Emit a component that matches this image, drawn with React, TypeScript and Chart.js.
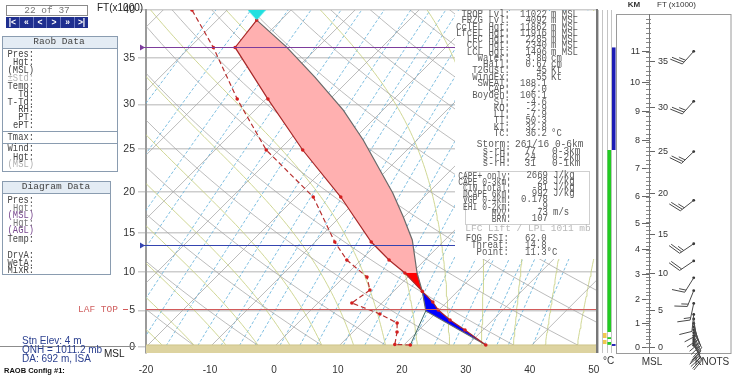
import React, { useEffect, useRef } from 'react';
import { Chart, registerables } from 'chart.js';

Chart.register(...registerables);

const W = 732;
const H = 377;
const MONO = "'Liberation Mono','DejaVu Sans Mono',monospace";
const SANS = "'Liberation Sans',Arial,sans-serif";

// ---------------- axis ticks ----------------
const ALT_TICKS_KFT = [0, 5, 10, 15, 20, 25, 30, 35, 40];
const TEMP_TICKS_C = [-20, -10, 0, 10, 20, 30, 40, 50];
const KM_TICKS = [0, 1, 2, 3, 4, 5, 6, 7, 8, 9, 10, 11];
const FT_TICKS_RIGHT = [0, 5, 10, 15, 20, 25, 30, 35];

// ---------------- sounding (altitude kft MSL, temperature °C) ----------------
const ENV_ALT_KFT = [0.28, 2.34, 3.69, 5.04, 6.1, 7.5, 9.9, 11.56, 13.84, 19.36, 24.88, 30.59, 36.1, 38.95];
const ENV_TEMP_C = [32.8, 27.2, 23.3, 19.9, 17.8, 14.5, 8.9, 4.4, -1.2, -13.0, -26.3, -39.7, -52.9, -53.8];
const DEW_ALT_KFT = [0.28, 0.35, 2.06, 3.29, 4.5, 5.97, 7.68, 9.38, 11.56, 13.84, 19.36, 24.88, 30.59, 36.1, 40];
const DEW_TEMP_C = [21.0, 18.5, 16.9, 15.5, 11.4, 5.3, 6.1, 3.6, -2.2, -6.9, -17.3, -32.0, -44.5, -56.3, -65.5];
const PARCEL_ALT_KFT = [0.28, 4.91, 7.5, 9.9, 14.09, 16.94, 19.84, 22.56, 26.02, 29.38, 32.97, 36.14, 38.95];
const PARCEL_TEMP_C = [32.8, 18.1, 14.5, 10.8, 4.9, -0.1, -5.5, -11.1, -18.4, -26.2, -35.8, -44.9, -53.8];
const LFC_KFT = 7.5;
const CAPE_SPLIT_KFT = 9.9;
const EL_KFT = 38.95;
const EL_TEMP_C = -53.8;
const GROUND_KFT = 0.28;

// levels: tropopause, freezing level, LAF top
const LEVEL_ALT_KFT = [36.16, 13.42, 5.17];

// ---------------- diagram reference lines ----------------
const ISOTHERMS_C = [-130, -120, -110, -100, -90, -80, -70, -60, -50, -40, -30, -20, -10, 0, 10, 20, 30, 40, 50];
const DRY_ADIABATS_K = [240, 250, 260, 270, 280, 290, 300, 310, 320, 330, 340, 350, 360, 370, 380, 390, 400, 410, 420, 430, 440, 450];
const MOIST_ADIABATS_C = [-18, -13, -8, -3, 2, 7, 12, 17, 22, 27, 32, 37, 42, 47];
const MIXING_RATIOS_GKG = [0.05, 0.1, 0.2, 0.3, 0.5, 0.7, 1, 1.5, 2, 2.5, 3, 4, 5, 6, 8, 10, 12, 14, 16, 20, 24, 28, 32, 36, 40, 50];

// ---------------- winds ----------------
const WIND_ALT_KFT = [36.1, 30.7, 25.0, 19.2, 13.8, 11.6, 9.4, 7.7, 6.0, 4.5, 3.9, 3.3, 2.8, 2.4, 2.0, 1.6, 1.3, 1.0, 0.7, 0.45, 0.25];
const WIND_DIR_DEG = [222, 222, 226, 232, 236, 236, 212, 202, 192, 186, 172, 166, 160, 156, 152, 155, 158, 160, 157, 153, 150];
const WIND_SPD_KT = [25, 25, 25, 25, 25, 20, 15, 15, 15, 10, 10, 10, 10, 10, 10, 10, 10, 10, 10, 10, 10];

// ---------------- side column layers ----------------
const COL_CATS = ['a', 'b', 'c', 'd'];
const COL_LAYER_CAT = [2, 3, 1, 1, 2, 2, 3];
const COL_LAYER_LO_KFT = [2.06, 24.88, 0.41, 1.24, 0.3, 1.1, 0.15];
const COL_LAYER_HI_KFT = [24.88, 36.1, 0.97, 1.93, 0.69, 1.35, 0.41];
const COL_LAYER_COLOR = ['#22cc22', '#1c1cb4', '#f0c850', '#f0c850', '#22cc22', '#22cc22', '#1c1cb4'];

// ---------------- geometry helpers ----------------
const K_SKEW = 31.23;
const Y_MIN = -0.03;
const Y_MAX = 1.6869;
const X_MIN = -20;
const X_MAX = 50.5;
const Y_LO = -0.08;
const Y_HI = 1.76;
const BARB_X = 0.566;

function yOf(kft: number) {
  const z = kft * 304.8;
  return z <= 11000 ? -5.25588 * Math.log(1 - 2.25577e-5 * z) : 1.49896 + (z - 11000) / 6341.6;
}
const pres = (Y: number) => 1013.25 * Math.exp(-Y);
const skewPt = (T: number, kft: number) => ({ x: T + K_SKEW * yOf(kft), y: yOf(kft) });

function isothermLine(T: number) {
  return [Y_LO, Y_HI].map((Y) => ({ x: T + K_SKEW * Y, y: Y }));
}
function dryLine(th: number) {
  const pts: any[] = [];
  for (let Y = Y_LO; Y <= Y_HI + 1e-9; Y += 0.04) {
    const T = th * Math.pow(pres(Y) / 1000, 0.2857) - 273.15;
    pts.push({ x: T + K_SKEW * Y, y: Y });
  }
  return pts;
}
function mixLine(w: number) {
  const pts: any[] = [];
  for (let Y = Y_LO; Y <= Y_HI + 1e-9; Y += 0.08) {
    const e = (w * pres(Y)) / (622 + w);
    const l = Math.log(e / 6.112);
    const Td = (243.5 * l) / (17.67 - l);
    pts.push({ x: Td + K_SKEW * Y, y: Y });
  }
  return pts;
}
function dTdY(Tk: number, p: number) {
  const Tc = Tk - 273.15;
  const es = 6.112 * Math.exp((17.67 * Tc) / (Tc + 243.5));
  const rs = (0.622 * es) / Math.max(p - es, 1);
  const num = 287 * Tk + 2.5e6 * rs;
  const den = 1005 + (2.5e6 * 2.5e6 * rs * 0.622) / (287 * Tk * Tk);
  return -num / den;
}
function moistLine(T0: number) {
  const Y0 = Math.log(1013.25 / 1000);
  const h = 0.02;
  const up: any[] = [];
  let T = T0 + 273.15;
  for (let Y = Y0; Y <= Y_HI + h; Y += h) {
    up.push({ x: T - 273.15 + K_SKEW * Y, y: Y });
    const k1 = dTdY(T, pres(Y));
    const k2 = dTdY(T + k1 * h, pres(Y + h));
    T += 0.5 * h * (k1 + k2);
  }
  const down: any[] = [];
  T = T0 + 273.15;
  for (let Y = Y0; Y >= Y_LO - h; Y -= h) {
    const k1 = dTdY(T, pres(Y));
    const k2 = dTdY(T - k1 * h, pres(Y - h));
    T -= 0.5 * h * (k1 + k2);
    down.push({ x: T - 273.15 + K_SKEW * (Y - h), y: Y - h });
  }
  return down.reverse().concat(up);
}

function bg(data: any[], color: string, dash: number[] = []) {
  return { data, borderColor: color, borderWidth: 1, borderDash: dash, pointRadius: 0, fill: false, order: 20 };
}

// ---------------- main skew-T chart ----------------
const levelPlugin = {
  id: 'levels',
  afterDatasetsDraw(chart: any) {
    const { ctx, chartArea: ca } = chart;
    const ys = chart.scales.y;
    const colors = ['#7d3d9c', '#3444b0', '#d25a5a'];
    ctx.save();
    LEVEL_ALT_KFT.forEach((alt, i) => {
      const py = Math.round(ys.getPixelForValue(yOf(alt))) + 0.5;
      ctx.strokeStyle = colors[i];
      ctx.lineWidth = 1;
      ctx.beginPath();
      if (i < 2) {
        ctx.moveTo(ca.left - 5, py);
      } else {
        ctx.moveTo(123, py);
        ctx.lineTo(128, py);
        ctx.moveTo(ca.left, py);
      }
      ctx.lineTo(ca.right, py);
      ctx.stroke();
      if (i < 2) {
        ctx.fillStyle = colors[i];
        ctx.beginPath();
        ctx.moveTo(ca.left - 6, py - 3);
        ctx.lineTo(ca.left - 1, py);
        ctx.lineTo(ca.left - 6, py + 3);
        ctx.closePath();
        ctx.fill();
      }
    });
    ctx.strokeStyle = '#777';
    ctx.lineWidth = 2;
    ctx.beginPath();
    ctx.moveTo(ca.right, ca.top - 1);
    ctx.lineTo(ca.right, ca.bottom);
    ctx.stroke();
    ctx.restore();
  },
};

function MainChart() {
  const ref = useRef<HTMLCanvasElement>(null);
  useEffect(() => {
    const tri = document.createElement('canvas');
    tri.width = 18;
    tri.height = 20;
    const tc = tri.getContext('2d')!;
    tc.fillStyle = '#20e0e0';
    tc.beginPath();
    tc.moveTo(0, 0);
    tc.lineTo(18, 0);
    tc.lineTo(9, 10);
    tc.closePath();
    tc.fill();

    const env = ENV_ALT_KFT.map((a, i) => ({ alt: a, T: ENV_TEMP_C[i] }));
    const par = PARCEL_ALT_KFT.map((a, i) => ({ alt: a, T: PARCEL_TEMP_C[i] }));
    const region = (lo: number, hi: number) => {
      const e = env.filter((p) => p.alt >= lo - 1e-6 && p.alt <= hi + 1e-6);
      const pc = par.filter((p) => p.alt >= lo - 1e-6 && p.alt <= hi + 1e-6).reverse();
      return [...e, ...pc].map((p) => skewPt(p.T, p.alt));
    };

    const datasets: any[] = [];
    ISOTHERMS_C.forEach((T) => datasets.push(bg(isothermLine(T), 'rgba(165,165,165,0.75)')));
    DRY_ADIABATS_K.forEach((t) => datasets.push(bg(dryLine(t), 'rgba(165,165,165,0.75)')));
    MOIST_ADIABATS_C.forEach((t) => datasets.push(bg(moistLine(t), 'rgba(200,208,130,0.85)')));
    MIXING_RATIOS_GKG.forEach((w) => datasets.push(bg(mixLine(w), 'rgba(105,180,220,0.85)', [3, 2])));

    datasets.push({
      data: [{ x: X_MIN, y: yOf(GROUND_KFT) }, { x: X_MAX, y: yOf(GROUND_KFT) }],
      borderColor: '#cfc48a', borderWidth: 1, backgroundColor: '#ddd3a0', fill: 'start', pointRadius: 0, order: 15,
    });
    datasets.push({ data: region(CAPE_SPLIT_KFT, EL_KFT), backgroundColor: '#ffb0b0', borderWidth: 0, fill: 'shape', pointRadius: 0, order: 10 });
    datasets.push({ data: region(LFC_KFT, CAPE_SPLIT_KFT), backgroundColor: '#ff0000', borderWidth: 0, fill: 'shape', pointRadius: 0, order: 10 });
    datasets.push({ data: region(0, LFC_KFT), backgroundColor: '#0000ff', borderWidth: 0, fill: 'shape', pointRadius: 0, order: 10 });
    datasets.push({
      data: PARCEL_ALT_KFT.map((a, i) => skewPt(PARCEL_TEMP_C[i], a)),
      borderColor: '#6a6a6a', borderWidth: 1.2, pointRadius: 0, fill: false, order: 5,
    });
    datasets.push({
      data: [skewPt(DEW_TEMP_C[0], DEW_ALT_KFT[0]), skewPt(PARCEL_TEMP_C[1], PARCEL_ALT_KFT[1])],
      borderColor: '#3c6a6a', borderWidth: 1, pointRadius: 0, fill: false, order: 5,
    });
    datasets.push({
      data: DEW_ALT_KFT.map((a, i) => skewPt(DEW_TEMP_C[i], a)),
      borderColor: '#b83030', borderWidth: 1.2, borderDash: [5, 3], pointRadius: 1.8,
      pointBackgroundColor: '#d41e1e', pointBorderWidth: 0, fill: false, order: 1,
    });
    datasets.push({
      data: ENV_ALT_KFT.map((a, i) => skewPt(ENV_TEMP_C[i], a)),
      borderColor: '#a82828', borderWidth: 1.2, pointRadius: 1.8,
      pointBackgroundColor: '#d41e1e', pointBorderWidth: 0, fill: false, order: 1,
    });
    datasets.push({ data: [skewPt(EL_TEMP_C, EL_KFT)], showLine: false, pointStyle: tri, pointRadius: 9, order: 0 });

    const chart = new Chart(ref.current!, {
      type: 'line',
      data: { datasets },
      options: {
        responsive: false,
        animation: false,
        events: [],
        layout: { padding: { left: 0, right: W - 597, top: 10, bottom: 0 } },
        plugins: { legend: { display: false }, tooltip: { enabled: false } },
        elements: { line: { tension: 0 } },
        scales: {
          x: {
            type: 'linear', min: X_MIN, max: X_MAX,
            afterBuildTicks: (s: any) => { s.ticks = TEMP_TICKS_C.map((v) => ({ value: v })); },
            afterFit: (s: any) => { s.height = H - 353; },
            grid: { display: false },
            border: { display: false },
            ticks: { autoSkip: false, maxRotation: 0, padding: 3, color: '#333', font: { family: SANS, size: 10 }, callback: (v: any) => String(v) },
          },
          y: {
            type: 'linear', min: Y_MIN, max: Y_MAX,
            afterBuildTicks: (s: any) => { s.ticks = ALT_TICKS_KFT.map((a) => ({ value: yOf(a) })); },
            afterFit: (s: any) => { s.width = 146; },
            grid: { color: '#cdcdcd', lineWidth: 1.5, tickLength: 8 },
            border: { display: true, color: '#9a9a9a', width: 2 },
            ticks: { autoSkip: false, padding: 3, color: '#333', font: { family: SANS, size: 10.5 }, callback: (_v: any, i: number) => String(ALT_TICKS_KFT[i]) },
          },
        },
      } as any,
      plugins: [levelPlugin],
    });
    return () => chart.destroy();
  }, []);
  return <canvas ref={ref} width={W} height={H} style={{ position: 'absolute', left: 0, top: 0, width: W, height: H }} />;
}

// ---------------- column of layers ----------------
function ColumnChart() {
  const ref = useRef<HTMLCanvasElement>(null);
  useEffect(() => {
    const datasets = COL_LAYER_CAT.map((cat, i) => ({
      data: COL_CATS.map((_c, j) => (j === cat ? [yOf(COL_LAYER_LO_KFT[i]), yOf(COL_LAYER_HI_KFT[i])] : null)),
      backgroundColor: COL_LAYER_COLOR[i],
      borderWidth: 0,
      grouped: false,
      barPercentage: 1,
      categoryPercentage: 0.8,
    }));
    const chart = new Chart(ref.current!, {
      type: 'bar',
      data: { labels: COL_CATS, datasets },
      options: {
        responsive: false,
        animation: false,
        events: [],
        layout: { padding: { left: 1, right: 0, top: 10, bottom: 24 } },
        plugins: { legend: { display: false }, tooltip: { enabled: false } },
        scales: {
          x: {
            grid: { offset: true, color: '#c4c4c4', drawTicks: false },
            border: { display: false },
            ticks: { display: false },
            afterFit: (s: any) => { s.height = 0; },
          },
          y: { display: false, min: Y_MIN, max: Y_MAX },
        },
      } as any,
    });
    return () => chart.destroy();
  }, []);
  return <canvas ref={ref} width={19} height={H} style={{ position: 'absolute', left: 597, top: 0, width: 19, height: H }} />;
}

// ---------------- right altitude / wind panel ----------------
const rightFrame = {
  id: 'rframe',
  beforeDraw(chart: any) {
    const { ctx, chartArea: ca } = chart;
    ctx.save();
    ctx.strokeStyle = '#9a9a9a';
    ctx.lineWidth = 1;
    ctx.strokeRect(0.5, Math.round(ca.top) + 0.5, chart.width - 1.5, Math.round(ca.bottom - ca.top));
    ctx.restore();
  },
};
const barbPlugin = {
  id: 'barbs',
  afterDatasetsDraw(chart: any) {
    const { ctx } = chart;
    const xs = chart.scales.x;
    const ys = chart.scales.yKm;
    const ca = Math.cos((70 * Math.PI) / 180);
    const sa = Math.sin((70 * Math.PI) / 180);
    ctx.save();
    ctx.strokeStyle = '#4a4a4a';
    ctx.lineWidth = 1;
    WIND_ALT_KFT.forEach((alt, i) => {
      const px = xs.getPixelForValue(BARB_X);
      const py = ys.getPixelForValue(yOf(alt));
      const d = (WIND_DIR_DEG[i] * Math.PI) / 180;
      const ux = Math.sin(d);
      const uy = -Math.cos(d);
      const L = 17;
      const ex = px + ux * L;
      const ey = py + uy * L;
      const fx = ux * ca - uy * sa;
      const fy = ux * sa + uy * ca;
      ctx.beginPath();
      ctx.moveTo(px, py);
      ctx.lineTo(ex, ey);
      let spd = WIND_SPD_KT[i];
      let k = 0;
      while (spd >= 10) {
        const bx = ex - ux * k * 2.5;
        const by = ey - uy * k * 2.5;
        ctx.moveTo(bx, by);
        ctx.lineTo(bx + fx * 13, by + fy * 13);
        spd -= 10;
        k++;
      }
      if (spd >= 5) {
        if (k === 0) k = 1;
        const bx = ex - ux * k * 2.5;
        const by = ey - uy * k * 2.5;
        ctx.moveTo(bx, by);
        ctx.lineTo(bx + fx * 7, by + fy * 7);
      }
      ctx.stroke();
    });
    ctx.restore();
  },
};

function RightChart() {
  const ref = useRef<HTMLCanvasElement>(null);
  useEffect(() => {
    const rulerTicks: number[] = [];
    for (let f = 0; f <= 39.5; f += 0.5) rulerTicks.push(f);
    const common = { type: 'linear', min: Y_MIN, max: Y_MAX, position: 'left' };
    const chart = new Chart(ref.current!, {
      type: 'scatter',
      data: {
        datasets: [{
          data: WIND_ALT_KFT.map((a) => ({ x: BARB_X, y: yOf(a) })),
          yAxisID: 'yKm', pointRadius: 1.4, pointBackgroundColor: '#333', pointBorderWidth: 0,
        }],
      },
      options: {
        responsive: false,
        animation: false,
        events: [],
        layout: { padding: { left: 0, right: 0, top: 10, bottom: 24 } },
        plugins: { legend: { display: false }, tooltip: { enabled: false } },
        scales: {
          x: { type: 'linear', min: 0, max: 1, display: false },
          yKm: {
            ...common, weight: 10,
            afterBuildTicks: (s: any) => { s.ticks = KM_TICKS.map((k) => ({ value: yOf((k * 1000) / 304.8) })); },
            afterFit: (s: any) => { s.width = 33; },
            grid: { drawOnChartArea: false, tickLength: 7, color: '#666' },
            border: { display: true, color: '#777' },
            ticks: { autoSkip: false, padding: 2, color: '#333', font: { family: SANS, size: 9 }, callback: (_v: any, i: number) => String(KM_TICKS[i]) },
          },
          yR1: {
            ...common, weight: 2,
            afterBuildTicks: (s: any) => { s.ticks = rulerTicks.map((f) => ({ value: yOf(f) })); },
            afterFit: (s: any) => { s.width = 0; },
            grid: { drawOnChartArea: false, tickLength: 3, color: '#888' },
            border: { display: false },
            ticks: { autoSkip: false, callback: () => '' },
          },
          yR2: {
            ...common, weight: 1,
            afterBuildTicks: (s: any) => { s.ticks = rulerTicks.map((f) => ({ value: yOf(f) })); },
            afterFit: (s: any) => { s.width = 0; },
            grid: { drawOnChartArea: false, tickLength: -2, color: '#888' },
            border: { display: false },
            ticks: { autoSkip: false, callback: () => '' },
          },
          yFt: {
            ...common, weight: 0,
            afterBuildTicks: (s: any) => { s.ticks = FT_TICKS_RIGHT.map((f) => ({ value: yOf(f) })); },
            afterFit: (s: any) => { s.width = 0; },
            grid: { drawOnChartArea: false, tickLength: -6, color: '#666' },
            border: { display: false },
            ticks: { autoSkip: false, mirror: true, padding: 9, color: '#333', font: { family: SANS, size: 9 }, callback: (_v: any, i: number) => String(FT_TICKS_RIGHT[i]) },
          },
        },
      } as any,
      plugins: [rightFrame, barbPlugin],
    });
    return () => chart.destroy();
  }, []);
  return <canvas ref={ref} width={116} height={H} style={{ position: 'absolute', left: 616, top: 0, width: 116, height: H }} />;
}

// ---------------- text helpers ----------------
type TP = { x: number; y: number; s: string; align?: string; color?: string; size?: number; font?: string; sy?: number; bold?: boolean };
function Tx({ x, y, s, align = 'left', color = '#555', size = 9, font = MONO, sy = 1, bold = false }: TP) {
  const st: any = {
    position: 'absolute', top: y - 7, height: 14, lineHeight: '14px', fontFamily: font, fontSize: size, color,
    whiteSpace: 'pre', fontWeight: bold ? 700 : 400, transform: sy !== 1 ? `scaleY(${sy})` : undefined,
  };
  if (align === 'right') { st.right = W - x; st.textAlign = 'right'; }
  else if (align === 'center') { st.left = x - 150; st.width = 300; st.textAlign = 'center'; }
  else st.left = x;
  return <div style={st}>{s}</div>;
}

const RAOB_ROWS: [string, number, string][] = [
  ['Pres:', 54, '#444'], ['Hgt:', 62, '#444'], ['(MSL)', 70, '#444'], ['±Std:', 78, '#b0b0b0'], ['Temp:', 86, '#444'],
  ['Td:', 94, '#444'], ['T-Td:', 101.5, '#444'], ['RH:', 109, '#444'], ['PT:', 117, '#444'], ['ePT:', 125, '#444'],
  ['Tmax:', 136.5, '#444'], ['Wind:', 148, '#444'], ['Hgt:', 156.5, '#444'], ['(MSL)', 164, '#b0b0b0'],
];
const DIAG_ROWS: [string, number, string][] = [
  ['Pres:', 200, '#444'], ['Hgt:', 207.5, '#777'], ['(MSL)', 215, '#7a4a90'], ['Hgt:', 223, '#777'], ['(AGL)', 230, '#7a4a90'],
  ['Temp:', 239, '#444'], ['DryA:', 254.5, '#444'], ['WetA:', 262.5, '#444'], ['MixR:', 270, '#444'],
];
const STATS: [string, string, string][] = [
  ['TROP Lvl:', '11022', 'm MSL'], ['FRZG Lvl:', '4092', 'm MSL'], ['CclEL Hgt:', '11862', 'm MSL'], ['LfcEL Hgt:', '11916', 'm MSL'],
  ['LFC Hgt:', '2285', 'm MSL'], ['CCL Hgt:', '2340', 'm MSL'], ['LCL Hgt:', '1496', 'm MSL'], ['Water:', '3.80', 'cm'],
  ['Hail:', '0.67', 'cm'], ['T2Gust:', '45', 'Kt'], ['WindEx:', '55', 'Kt'], ['SWEAT:', '188.1', ''], ['CAP:', '2.0', ''],
  ['Boyden:', '106.1', ''], ['SI:', '-4.6', ''], ['KO:', '-2.9', ''], ['LI:', '-7.9', ''], ['TT:', '50.3', ''], ['KI:', '32.8', ''],
  ['Tc:', '36.2', '°C'],
];
const STORM: [string, string, string][] = [
  ['s-rH:', '77', '0-3km'], ['s-rH:', '24', '0-2km'], ['s-rH:', '31', '0-1km'],
];
const CAPE_ROWS: [string, string, string][] = [
  ['CAPE+ only:', '2669', 'J/kg'], ['CAPE 0-3km:', '28', 'J/kg'], ['CIN total:', '-81', 'J/kg'], ['DCAPE 6km:', '992', 'J/kg'],
  ['VGP 0-4km:', '0.178', ''], ['EHI 0-2km:', '.9', ''], ['MVV:', '73', 'm/s'], ['BRN:', '107', ''],
];
const FOG_ROWS: [string, string][] = [['FOG FSI:', '62.0'], ['Threat:', '14.8'], ['Point:', '11.3°C']];

export default function App() {
  const box: any = { position: 'absolute', border: '1px solid #8a9cb0', background: '#fff', boxSizing: 'border-box' };
  const head: any = { position: 'absolute', left: 0, right: 0, top: 0, height: 11, background: '#e4ecf4', borderBottom: '1px solid #8a9cb0' };
  return (
    <div style={{ position: 'absolute', left: 0, top: 0, width: W, height: H, background: '#fff', overflow: 'hidden' }}>
      <MainChart />
      <ColumnChart />
      <RightChart />

      {/* navigation */}
      <div style={{ position: 'absolute', left: 6, top: 5, width: 82, height: 11, border: '1px solid #8a8a8a', boxSizing: 'border-box', background: '#fff' }} />
      <Tx x={47} y={10.5} s="22 of 37" align="center" color="#777" size={9.5} font={MONO} />
      <div style={{ position: 'absolute', left: 6, top: 17, width: 82, height: 11, background: '#1f2f8f', display: 'flex' }}>
        {['|<', '«', '<', '>', '»', '>|'].map((b, i) => (
          <div key={i} style={{ flex: 1, color: '#fff', fontSize: 8.5, fontFamily: SANS, fontWeight: 700, textAlign: 'center', lineHeight: '11px', borderLeft: i ? '1px solid #6a78c0' : 'none' }}>{b}</div>
        ))}
      </div>

      {/* Raob Data panel */}
      <div style={{ ...box, left: 2, top: 36, width: 116, height: 136 }}>
        <div style={head} />
        <div style={{ position: 'absolute', left: 0, right: 0, top: 94, height: 0, borderTop: '1px solid #8a9cb0' }} />
        <div style={{ position: 'absolute', left: 0, right: 0, top: 106, height: 0, borderTop: '1px solid #8a9cb0' }} />
      </div>
      <Tx x={59} y={41.5} s="Raob Data" align="center" color="#444" size={9.5} />
      {RAOB_ROWS.map(([s, y, c], i) => <Tx key={'r' + i} x={34} y={y} s={s} align="right" color={c} size={8.8} sy={1.25} />)}

      {/* Diagram Data panel */}
      <div style={{ ...box, left: 2, top: 181, width: 109, height: 94 }}>
        <div style={head} />
      </div>
      <Tx x={56} y={186.5} s="Diagram Data" align="center" color="#444" size={9.5} />
      {DIAG_ROWS.map(([s, y, c], i) => <Tx key={'d' + i} x={34} y={y} s={s} align="right" color={c} size={8.8} sy={1.25} />)}

      {/* axis captions */}
      <Tx x={97} y={8} s="FT(x1000)" color="#222" size={10} font={SANS} />
      <Tx x={78} y={310} s="LAF TOP" color="#d06060" size={9.5} font={MONO} />
      <div style={{ position: 'absolute', left: 0, top: 346, width: 136, height: 0, borderTop: '1px solid #8c8c8c' }} />
      <Tx x={22} y={341} s="Stn Elev: 4 m" color="#2a3f8f" size={10} font={SANS} />
      <Tx x={22} y={350} s="QNH = 1011.2 mb" color="#2a3f8f" size={10} font={SANS} />
      <Tx x={22} y={359} s="DA: 692 m, ISA" color="#2a3f8f" size={10} font={SANS} />
      <Tx x={104} y={354} s="MSL" color="#222" size={10} font={SANS} />
      <Tx x={4} y={371} s="RAOB Config #1:" color="#111" size={7.5} font={SANS} bold />
      <Tx x={603} y={361} s="°C" color="#333" size={10} font={SANS} />
      <Tx x={634} y={5} s="KM" align="center" color="#333" size={8} font={SANS} bold />
      <Tx x={657} y={5} s="FT (x1000)" color="#333" size={8} font={SANS} />
      <Tx x={652} y={362} s="MSL" align="center" color="#333" size={10} font={SANS} />
      <Tx x={712} y={362} s="KNOTS" align="center" color="#333" size={10} font={SANS} />

      {/* statistics box */}
      <div style={{ position: 'absolute', left: 455, top: 11, width: 141, height: 248, background: '#fff' }} />
      {STATS.map(([l, v, u], i) => (
        <React.Fragment key={'s' + i}>
          <Tx x={510} y={15 + i * 6.25} s={l} align="right" color="#5a5a5a" size={9} sy={1.2} />
          <Tx x={547} y={15 + i * 6.25} s={v} align="right" color="#5a5a5a" size={9} sy={1.2} />
          {u ? <Tx x={551} y={15 + i * 6.25} s={u} color="#5a5a5a" size={9} sy={1.2} /> : null}
        </React.Fragment>
      ))}
      <Tx x={511} y={145} s="Storm:" align="right" color="#5a5a5a" size={9.5} sy={1.2} />
      <Tx x={515} y={145} s="261/16 0-6km" color="#5a5a5a" size={9.5} sy={1.2} />
      {STORM.map(([l, v, u], i) => (
        <React.Fragment key={'t' + i}>
          <Tx x={511} y={152 + i * 6.2} s={l} align="right" color="#5a5a5a" size={9.5} sy={1.2} />
          <Tx x={536} y={152 + i * 6.2} s={v} align="right" color="#5a5a5a" size={9.5} sy={1.2} />
          <Tx x={552} y={152 + i * 6.2} s={u} color="#5a5a5a" size={9.5} sy={1.2} />
        </React.Fragment>
      ))}
      <div style={{ position: 'absolute', left: 465, top: 171, width: 125, height: 54, border: '1px solid #cfcfcf', boxSizing: 'border-box' }} />
      {CAPE_ROWS.map(([l, v, u], i) => (
        <React.Fragment key={'c' + i}>
          <Tx x={511} y={175.5 + i * 6.2} s={l} align="right" color="#5a5a5a" size={8} sy={1.3} />
          <Tx x={548} y={175.5 + i * 6.2} s={v} align="right" color="#5a5a5a" size={9} sy={1.2} />
          {u ? <Tx x={553} y={175.5 + i * 6.2} s={u} color="#5a5a5a" size={9} sy={1.2} /> : null}
        </React.Fragment>
      ))}
      <Tx x={528} y={229} s="LFC Lift / LPL 1011 mb" align="center" color="#b8b8b8" size={9.5} />
      {FOG_ROWS.map(([l, v], i) => (
        <React.Fragment key={'f' + i}>
          <Tx x={509} y={239 + i * 7.2} s={l} align="right" color="#5a5a5a" size={9} sy={1.2} />
          <Tx x={525} y={239 + i * 7.2} s={v} color="#5a5a5a" size={9} sy={1.2} />
        </React.Fragment>
      ))}
    </div>
  );
}
